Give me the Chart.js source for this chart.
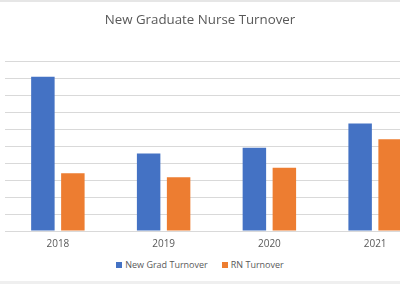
<!DOCTYPE html>
<html>
<head>
<meta charset="utf-8">
<script src="https://cdn.jsdelivr.net/npm/chart.js@4"></script>
<style>
  html, body { margin: 0; padding: 0; background: #fff; }
  #wrap { position: relative; width: 400px; height: 284px; overflow: hidden; background: #fff; font-family: "Open Sans", "Noto Sans", sans-serif; color: #595959; }
  #topline { position: absolute; left: 0; top: 0; width: 400px; height: 2px; background: #e6e6e6; }
  #bottomband { position: absolute; left: 0; top: 281px; width: 400px; height: 3px; background: #efefef; }
  #title { position: absolute; left: 0; top: 10px; width: 400px; text-align: center; font-size: 13.3px; }
  #canvasBox { position: absolute; left: 0; top: 0; width: 430px; height: 258px; }
  #legend { position: absolute; left: 0; top: 258px; width: 400px; text-align: center; font-size: 9px; }
  #legend span.item { margin: 0 7px; }
  #legend span.sw { display: inline-block; width: 6px; height: 6px; margin-right: 3px; }
</style>
</head>
<body>
<div id="wrap">
  <div id="topline"></div>
  <div id="canvasBox"><canvas id="turnoverChart"></canvas></div>
  <div id="title">New Graduate Nurse Turnover</div>
  <div id="legend"></div>
  <div id="bottomband"></div>
</div>
<script>
var years = ['2018', '2019', '2020', '2021'];
var newGradTurnover = [45.4, 22.8, 24.5, 31.6];
var rnTurnover = [17.0, 15.8, 18.6, 27.0];
var seriesNames = ['New Grad Turnover', 'RN Turnover'];
var colorHex = ['#4472C4', '#ED7D31'];

// html legend, centred on the visible window
var legendHtml = '';
for (var i = 0; i < seriesNames.length; i++) {
    legendHtml += '<span class="item"><span class="sw" style="background:' + colorHex[i] + '"></span>' + seriesNames[i] + '</span>';
}
document.getElementById('legend').innerHTML = legendHtml;

var ctx = document.getElementById('turnoverChart').getContext('2d');
var myChart = new Chart(ctx, {
    type: 'bar',
    data: {
        labels: years,
        datasets: [{
            label: seriesNames[0],
            data: newGradTurnover,
            backgroundColor: colorHex[0]
        }, {
            label: seriesNames[1],
            data: rnTurnover,
            backgroundColor: colorHex[1]
        }]
    },
    options: {
        responsive: true,
        maintainAspectRatio: false,
        animation: false,
        categoryPercentage: 0.567,
        barPercentage: 0.783,
        layout: {
            padding: { top: 61, left: 5, right: 2, bottom: 1 }
        },
        plugins: {
            legend: { display: false },
            title: { display: false },
            tooltip: { enabled: false }
        },
        scales: {
            x: {
                grid: { display: false, drawTicks: false },
                border: { display: true, color: '#d9d9d9' },
                ticks: {
                    color: '#595959',
                    padding: 7,
                    font: { family: '"Open Sans", "Noto Sans", sans-serif', size: 10 }
                }
            },
            y: {
                min: 0,
                max: 50,
                ticks: { display: false, stepSize: 5 },
                border: { display: false },
                grid: { color: '#d9d9d9', drawTicks: false }
            }
        }
    }
});
</script>
</body>
</html>
